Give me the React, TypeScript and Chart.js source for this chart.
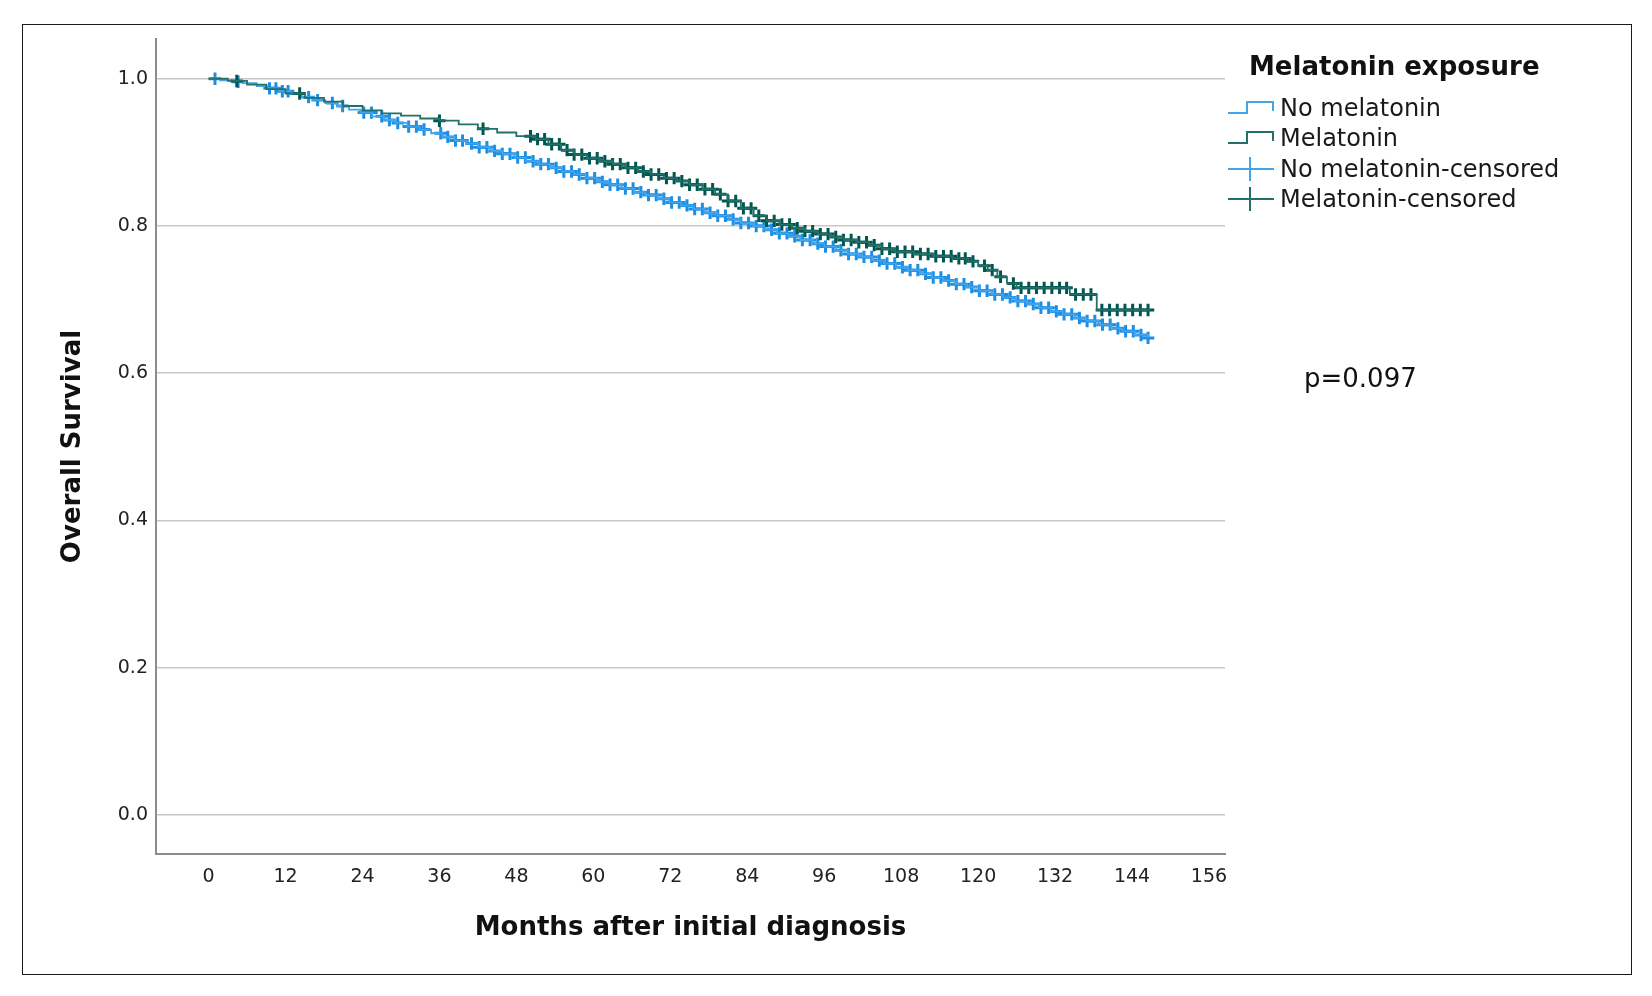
import React, { useEffect, useRef } from "react";
import { Chart, registerables } from "chart.js";

Chart.register(...registerables);

// ---- data ----
const noMelTimes = [0, 1.8, 3.6, 5.4, 7.5, 9.2, 11, 12.8, 14.5, 16.3, 18.2, 20, 21.9, 23.7, 25.5, 27.4, 29.2, 31, 32.9, 34.7, 36.5, 38.4, 40.2, 42.1, 44, 45.8, 47.7, 49.5, 51.4, 53.2, 55.1, 57, 58.8, 60.7, 62.5, 64.4, 66.3, 68.1, 70, 71.8, 73.7, 75.6, 77.4, 79.3, 81.1, 83, 84.9, 86.7, 88.6, 90.4, 92.3, 94.2, 96, 97.9, 99.7, 101.6, 103.5, 105.3, 107.2, 109, 110.9, 112.8, 114.6, 116.5, 118.3, 120.2, 122.1, 123.9, 125.8, 127.6, 129.5, 131.4, 133.2, 135.1, 136.9, 138.8, 140.7, 142.5, 144.4, 146.5];
const noMelSurv = [1.0, 0.998, 0.996, 0.994, 0.99, 0.987, 0.983, 0.979, 0.975, 0.971, 0.967, 0.963, 0.958, 0.954, 0.949, 0.944, 0.94, 0.935, 0.931, 0.926, 0.921, 0.916, 0.912, 0.907, 0.902, 0.898, 0.893, 0.888, 0.884, 0.879, 0.874, 0.87, 0.865, 0.86, 0.856, 0.851, 0.846, 0.842, 0.837, 0.832, 0.828, 0.823, 0.818, 0.814, 0.809, 0.804, 0.8, 0.795, 0.79, 0.786, 0.781, 0.776, 0.772, 0.767, 0.762, 0.758, 0.753, 0.749, 0.744, 0.74, 0.735, 0.73, 0.726, 0.721, 0.717, 0.712, 0.707, 0.703, 0.698, 0.694, 0.689, 0.684, 0.68, 0.675, 0.671, 0.666, 0.661, 0.657, 0.652, 0.648];

const melTimes = [0, 3, 6, 9, 12, 15, 18, 21, 24, 27, 30, 33, 36, 39, 42, 45, 48, 51, 53, 55, 57, 59, 61, 63, 65, 67, 69, 71, 73, 75, 77, 79, 81, 83, 85, 87, 89, 91, 93, 95, 97, 99, 101, 103, 105, 107, 110, 113, 116, 118.5, 120, 121.5, 123, 124.5, 126, 134.3, 138.5, 146.8];
const melSurv = [1.0, 0.997, 0.992, 0.986, 0.98, 0.974, 0.969, 0.963, 0.957, 0.953, 0.95, 0.946, 0.943, 0.938, 0.932, 0.927, 0.922, 0.918, 0.911, 0.903, 0.897, 0.892, 0.888, 0.884, 0.879, 0.874, 0.87, 0.865, 0.861, 0.856, 0.85, 0.843, 0.834, 0.824, 0.814, 0.807, 0.802, 0.797, 0.793, 0.789, 0.785, 0.781, 0.778, 0.774, 0.769, 0.765, 0.762, 0.759, 0.756, 0.752, 0.746, 0.74, 0.731, 0.722, 0.716, 0.707, 0.686, 0.686];

const noMelCensorTimes = [1, 4.6, 9.5, 10.5, 11.5, 12.4, 15.6, 17, 19.3, 20.9, 24.2, 25.4, 27, 28.2, 29.5, 31.2, 32.4, 33.6, 36.2, 37.3, 38.5, 39.6, 41, 42.2, 43.4, 44.6, 45.8, 47, 48.2, 49.4, 50.6, 51.8, 53, 54.2, 55.4, 56.6, 57.8, 59, 60.2, 61.4, 62.6, 63.8, 65, 66.2, 67.4, 68.6, 69.8, 71, 72.2, 73.4, 74.6, 75.8, 77, 78.2, 79.4, 80.6, 81.8, 83, 84.2, 85.4, 86.6, 87.8, 89, 90.2, 91.4, 92.6, 93.8, 95, 96.2, 97.4, 98.6, 99.8, 101, 102.2, 103.4, 104.6, 105.8, 107, 108.2, 109.4, 110.6, 111.8, 113, 114.2, 115.4, 116.6, 117.8, 119, 120.2, 121.4, 122.6, 123.8, 125, 126.2, 127.4, 128.6, 129.8, 131, 132.2, 133.4, 134.6, 135.8, 137, 138.2, 139.4, 140.6, 141.8, 143, 144.2, 145.4, 146.5];
const melCensorTimes = [4.4, 14.2, 36, 42.8, 50.2, 51.3, 52.4, 53.5, 54.7, 55.9, 57, 58.2, 59.4, 60.6, 61.8, 63, 64.2, 65.4, 66.6, 67.8, 69, 70.2, 71.4, 72.6, 73.8, 75, 76.2, 77.4, 78.6, 79.8, 81, 82.2, 83.4, 84.6, 85.8, 87, 88.2, 89.4, 90.6, 91.8, 93, 94.2, 95.4, 96.6, 97.8, 99, 100.2, 101.4, 102.6, 103.8, 105, 106.2, 107.4, 108.6, 109.8, 111, 112.2, 113.4, 114.6, 115.8, 117, 118, 119.2, 121, 122.2, 123.5, 125.5, 126.7, 127.9, 129.1, 130.3, 131.5, 132.7, 133.8, 135.2, 136.4, 137.6, 139.3, 140.5, 141.7, 142.9, 144.1, 145.3, 146.5];

const xTickValues = [0, 12, 24, 36, 48, 60, 72, 84, 96, 108, 120, 132, 144, 156];
const yTickValues = [0, 0.2, 0.4, 0.6, 0.8, 1.0];

const seriesLabels = ["No melatonin", "Melatonin", "No melatonin-censored", "Melatonin-censored"];
const legendTitle = "Melatonin exposure";
const pValueText = "p=0.097";
const xTitle = "Months after initial diagnosis";
const yTitle = "Overall Survival";

// ---- styles ----
const FONT = "'DejaVu Sans', 'Noto Sans', sans-serif";
const BLUE_MARK = "#1a8fe6";
const BLUE_LINE = "#45a3ea";
const GREEN_MARK = "#00574f";
const GREEN_LINE = "#23706a";

function survivalAt(times: number[], surv: number[], t: number): number {
  let v = surv[0];
  for (let i = 0; i < times.length; i++) {
    if (times[i] <= t) v = surv[i];
  }
  return v;
}

function StepIcon({ color }: { color: string }) {
  return (
    <svg width="52" height="24" style={{ display: "block" }}>
      <polyline points="2,17 21,17 21,6 47,6 47,15" fill="none" stroke={color} strokeWidth="2" />
    </svg>
  );
}

function CrossIcon({ color }: { color: string }) {
  return (
    <svg width="52" height="26" style={{ display: "block" }}>
      <line x1="2" y1="13" x2="48" y2="13" stroke={color} strokeWidth="2" />
      <line x1="24" y1="1" x2="24" y2="25" stroke={color} strokeWidth="2" />
    </svg>
  );
}

export default function App() {
  const canvasRef = useRef<HTMLCanvasElement | null>(null);

  useEffect(() => {
    if (!canvasRef.current) return;
    const noMelLine = noMelTimes.map((t, i) => ({ x: t, y: noMelSurv[i] }));
    const melLine = melTimes.map((t, i) => ({ x: t, y: melSurv[i] }));
    const noMelCens = noMelCensorTimes.map((t) => ({ x: t, y: survivalAt(noMelTimes, noMelSurv, t) }));
    const melCens = melCensorTimes.map((t) => ({ x: t, y: survivalAt(melTimes, melSurv, t) }));

    const chart = new Chart(canvasRef.current, {
      type: "line",
      data: {
        datasets: [
          {
            type: "line",
            label: seriesLabels[1],
            data: melLine,
            stepped: "before",
            borderColor: GREEN_LINE,
            borderWidth: 1.8,
            pointRadius: 0,
            fill: false,
            order: 0,
          },
          {
            type: "scatter",
            label: seriesLabels[3],
            data: melCens,
            pointStyle: "cross",
            pointRadius: 6.2,
            pointBorderWidth: 3,
            pointBorderColor: GREEN_MARK,
            borderColor: GREEN_MARK,
            showLine: false,
            order: 0,
          },
          {
            type: "line",
            label: seriesLabels[0],
            data: noMelLine,
            stepped: "before",
            borderColor: BLUE_LINE,
            borderWidth: 1.8,
            pointRadius: 0,
            fill: false,
            order: 1,
          },
          {
            type: "scatter",
            label: seriesLabels[2],
            data: noMelCens,
            pointStyle: "cross",
            pointRadius: 6.2,
            pointBorderWidth: 3,
            pointBorderColor: BLUE_MARK,
            borderColor: BLUE_MARK,
            showLine: false,
            order: 1,
          },
        ] as any,
      },
      options: {
        animation: false,
        responsive: true,
        maintainAspectRatio: false,
        layout: { padding: { left: 26, top: 39, right: 427, bottom: 42 } },
        plugins: {
          legend: { display: false },
          tooltip: { enabled: false },
        },
        scales: {
          x: {
            type: "linear",
            min: -8.2,
            max: 158.5,
            afterBuildTicks: (scale: any) => {
              scale.ticks = xTickValues.map((v) => ({ value: v }));
            },
            afterFit: (scale: any) => {
              scale.height = 100;
            },
            grid: { display: false, drawTicks: false },
            border: { display: true, color: "#8c8c8c", width: 2 },
            ticks: {
              font: { family: FONT, size: 19 },
              color: "#222",
              padding: 12,
              maxRotation: 0,
              autoSkip: false,
              callback: (v: any) => String(v),
            },
            title: {
              display: true,
              text: xTitle,
              color: "#111",
              font: { family: FONT, size: 26, weight: "bold" },
              padding: { top: 0, bottom: 10.6 },
            },
          },
          y: {
            type: "linear",
            min: -0.053,
            max: 1.054,
            afterBuildTicks: (scale: any) => {
              scale.ticks = yTickValues.map((v) => ({ value: v }));
            },
            afterFit: (scale: any) => {
              scale.width = 130;
            },
            grid: { color: "#c8c8c8", lineWidth: 1.5, drawTicks: false },
            border: { display: true, color: "#8c8c8c", width: 2 },
            ticks: {
              font: { family: FONT, size: 19 },
              color: "#222",
              padding: 8,
              callback: (v: any) => Number(v).toFixed(1),
            },
            title: {
              display: true,
              text: yTitle,
              color: "#111",
              font: { family: FONT, size: 26, weight: "bold" },
              padding: { top: 31.6, bottom: 0 },
            },
          },
        },
      } as any,
    });
    return () => chart.destroy();
  }, []);

  const rowCenters = [107.5, 138, 168.5, 198.5];
  const icons = [
    <StepIcon color={BLUE_LINE} />,
    <StepIcon color={GREEN_LINE} />,
    <CrossIcon color={BLUE_LINE} />,
    <CrossIcon color={GREEN_LINE} />,
  ];

  return (
    <div style={{ position: "absolute", left: 0, top: 0, width: 1652, height: 996, background: "#fff", fontFamily: FONT }}>
      <div style={{ position: "absolute", left: 0, top: 0, width: 1652, height: 996 }}>
        <canvas ref={canvasRef} />
      </div>
      <div
        style={{
          position: "absolute",
          left: 22,
          top: 24,
          width: 1610,
          height: 951,
          border: "1.5px solid #1a1a1a",
          boxSizing: "border-box",
          pointerEvents: "none",
        }}
      />
      <div
        style={{
          position: "absolute",
          left: 1249,
          top: 66 - 18,
          height: 36,
          lineHeight: "36px",
          fontSize: 26,
          fontWeight: "bold",
          color: "#111",
          whiteSpace: "nowrap",
        }}
      >
        {legendTitle}
      </div>
      {seriesLabels.map((label, i) => (
        <React.Fragment key={label}>
          <div style={{ position: "absolute", left: 1226, top: rowCenters[i] - (i < 2 ? 12 : 13) }}>{icons[i]}</div>
          <div
            style={{
              position: "absolute",
              left: 1280,
              top: rowCenters[i] - 15,
              height: 30,
              lineHeight: "30px",
              fontSize: 24,
              color: "#1a1a1a",
              whiteSpace: "nowrap",
            }}
          >
            {label}
          </div>
        </React.Fragment>
      ))}
      <div
        style={{
          position: "absolute",
          left: 1304,
          top: 378 - 18,
          height: 36,
          lineHeight: "36px",
          fontSize: 26,
          color: "#111",
          whiteSpace: "nowrap",
        }}
      >
        {pValueText}
      </div>
    </div>
  );
}
